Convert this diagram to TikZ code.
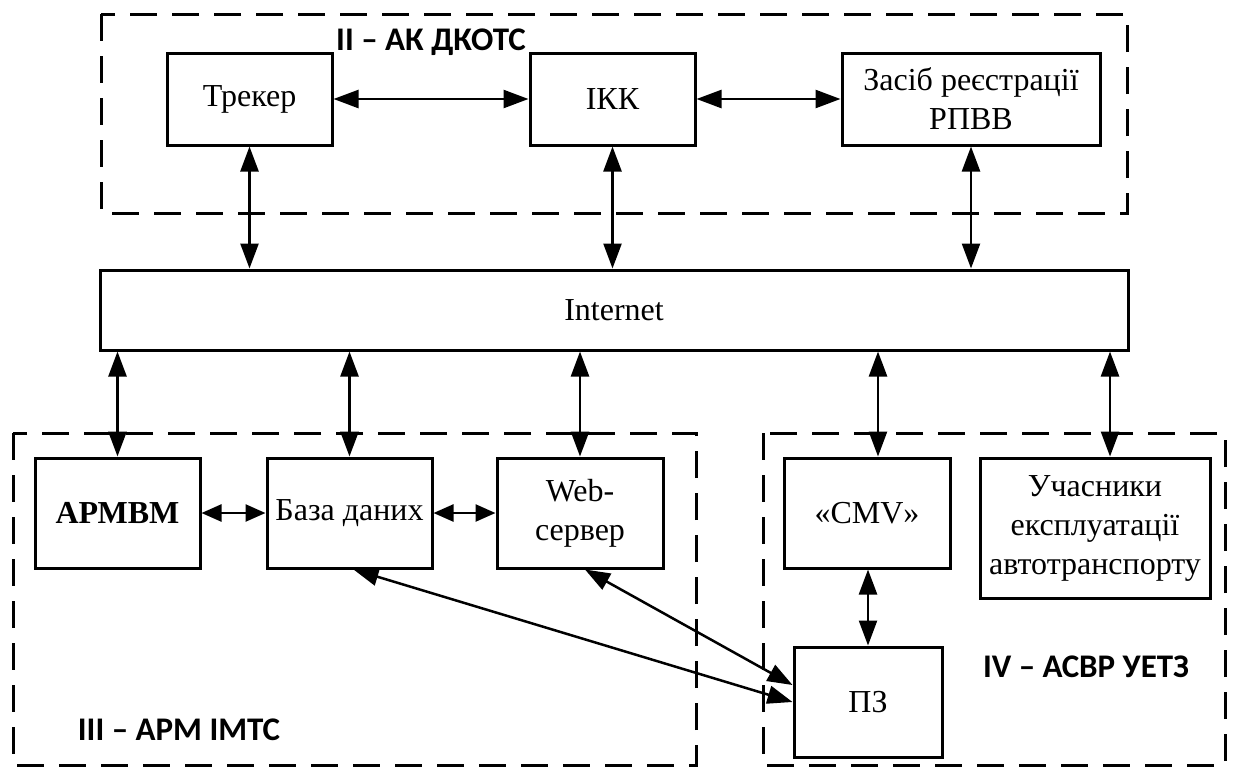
\documentclass[tikz,border=0pt]{standalone}
\usepackage{fontspec}
\setmainfont{Liberation Serif}
\newfontfamily\zonefont{Carlito}
\usetikzlibrary{arrows.meta,positioning}

\begin{document}
\begin{tikzpicture}[x=1pt,y=-1pt]
	\tikzset{block/.style={draw,line width=3pt,inner sep=0pt,align=center,font=\fontsize{32}{39}\selectfont},
		zone/.style={draw,line width=3pt,dash pattern=on 27pt off 15pt},
		zonelabel/.style={inner sep=0pt,font=\zonefont\bfseries\fontsize{33}{38}\selectfont},
		link/.style={line width=2.5pt,{Triangle[length=25pt,width=18pt]}-{Triangle[length=25pt,width=18pt]}},
		shortlink/.style={line width=2.5pt,{Triangle[length=20pt,width=17pt]}-{Triangle[length=20pt,width=17pt]}}}
	\useasboundingbox (0,0) rectangle (1233,769);
	\draw[zone] (101,14) rectangle (1127,213);
	\draw[zone] (13,433) rectangle (696,765);
	\draw[zone] (763,433) rectangle (1225,765);
	\node[zonelabel] (lbl2) at (431,42) {II – АК ДКОТС};
	\node[zonelabel] (lbl3) at (179,730) {III – АРМ ІМТС};
	\node[zonelabel] (lbl4) at (1086,667) {IV – АСВР УЕТЗ};
	\node[block,minimum width=165pt,minimum height=92pt] (trk) at (249.5,99) {Трекер};
	\node[block,minimum width=165pt,minimum height=92pt] (ikk) at (612.5,99) {ІКК};
	\node[block,minimum width=258pt,minimum height=92pt] (reg) at (971,99) {Засіб реєстрації\\РПВВ};
	\node[block,minimum width=1028pt,minimum height=80pt] (inet) at (614,310) {Internet};
	\node[block,minimum width=165pt,minimum height=110pt] (armvm) at (117.5,513) {\bfseries АРМВМ};
	\node[block,minimum width=165pt,minimum height=110pt] (baza) at (349.5,513) {База даних};
	\node[block,minimum width=166pt,minimum height=110pt] (web) at (580,513) {Web-\\сервер};
	\node[block,minimum width=166pt,minimum height=110pt] (cmv) at (867,513) {«CMV»};
	\node[block,minimum width=230pt,minimum height=140pt] (uch) at (1095,528) {Учасники\\експлуатації\\автотранспорту};
	\node[block,minimum width=148pt,minimum height=110pt] (pz) at (868,702) {ПЗ};
	\coordinate (cmvin) at ([xshift=11pt]cmv.north);
	\coordinate (uchin) at ([xshift=15pt]uch.north);
	\path[link]
		(trk) edge (ikk)
		(ikk) edge (reg)
		(trk) edge (trk |- inet.north)
		(ikk) edge (ikk |- inet.north)
		(reg) edge (reg |- inet.north)
		(inet.south -| armvm) edge (armvm)
		(inet.south -| baza) edge (baza)
		(inet.south -| web) edge (web)
		(cmvin |- inet.south) edge (cmvin)
		(uchin |- inet.south) edge (uchin)
		(pz) edge (pz |- cmv.south)
		([xshift=4pt]baza.south) edge (pz.west)
		([xshift=5pt]web.south) edge ([yshift=17pt]pz.west);
	\path[shortlink]
		(armvm) edge (baza)
		(baza) edge (web);
\end{tikzpicture}
\end{document}
